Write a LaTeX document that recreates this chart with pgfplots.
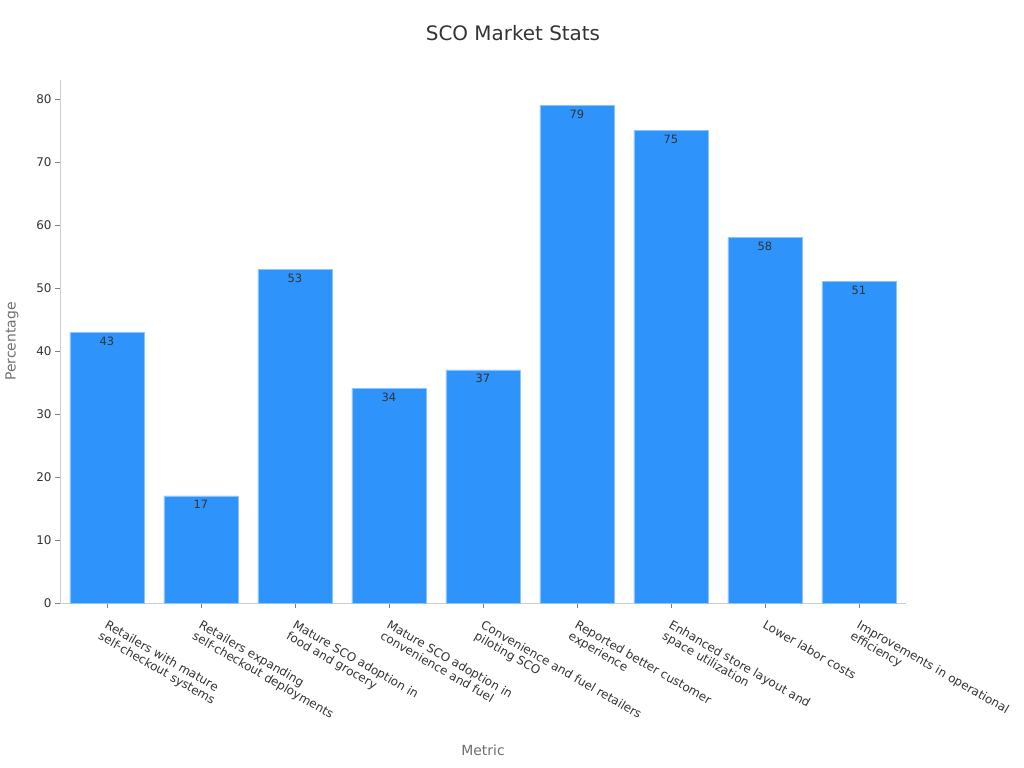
\documentclass[border=0pt]{standalone}
\usepackage{pgfplots}
\pgfplotsset{compat=1.18}
\usepackage{fontspec}
\setmainfont{DejaVu Sans}
\definecolor{barblue}{HTML}{2E93FA}
\definecolor{baredge}{HTML}{8CC4FC}
\definecolor{axisgray}{HTML}{CCCCCC}
\definecolor{labelgray}{HTML}{6E6E6E}
\definecolor{textdark}{HTML}{333333}
\begin{document}
\begin{tikzpicture}
% page is 1024 x 768 bp, axis box from (60,80) to (906,603) in pixels
\path[use as bounding box] (-60bp,-165bp) rectangle (964bp,603bp);
\begin{axis}[
    at={(0,0)}, anchor=south west,
    scale only axis,
    width=846bp, height=523bp,
    ybar, bar width=74bp,
    xmin=-0.5, xmax=8.5,
    ymin=0, ymax=83,
    ytick={0,10,...,80},
    xtick=data,
    xticklabels={
        {Retailers with mature\\self-checkout systems},
        {Retailers expanding\\self-checkout deployments},
        {Mature SCO adoption in\\food and grocery},
        {Mature SCO adoption in\\convenience and fuel},
        {Convenience and fuel retailers\\piloting SCO},
        {Reported better customer\\experience},
        {Enhanced store layout and\\space utilization},
        {Lower labor costs},
        {Improvements in operational\\efficiency}},
    xticklabel style={rotate=-30, anchor=north west, align=left,
        font=\fontsize{12}{13}\selectfont, text=textdark, inner sep=1pt,
        xshift=6bp, yshift=-8bp},
    yticklabel style={font=\fontsize{12}{14}\selectfont, text=textdark},
    /pgf/number format/assume math mode=true,
    axis x line*=bottom, axis y line*=left,
    axis line style={axisgray, line width=0.8pt, -},
    tick style={gray, line width=0.8pt},
    tick align=outside,
    major tick length=5bp,
    ylabel={Percentage}, xlabel={Metric},
    ylabel style={font=\fontsize{14}{16}\selectfont, text=labelgray,
        at={(axis description cs:0,0.5)}, anchor=center, yshift=48bp},
    xlabel style={font=\fontsize{14}{16}\selectfont, text=labelgray, at={(axis description cs:0.5,0)}, anchor=center, yshift=-147bp},
    title={SCO Market Stats},
    title style={font=\fontsize{20}{22}\selectfont, text=textdark, at={(axis description cs:0.5,1)}, anchor=center, yshift=41bp, xshift=30bp},
    nodes near coords,
    every node near coord/.append style={anchor=north, yshift=-1bp,
        font=\fontsize{11.5}{13}\selectfont, text=textdark},
]
\addplot[fill=barblue, draw=baredge, line width=0.6pt] coordinates {
    (0,43) (1,17) (2,53) (3,34) (4,37) (5,79) (6,75) (7,58) (8,51)
};
\end{axis}
\end{tikzpicture}
\end{document}
